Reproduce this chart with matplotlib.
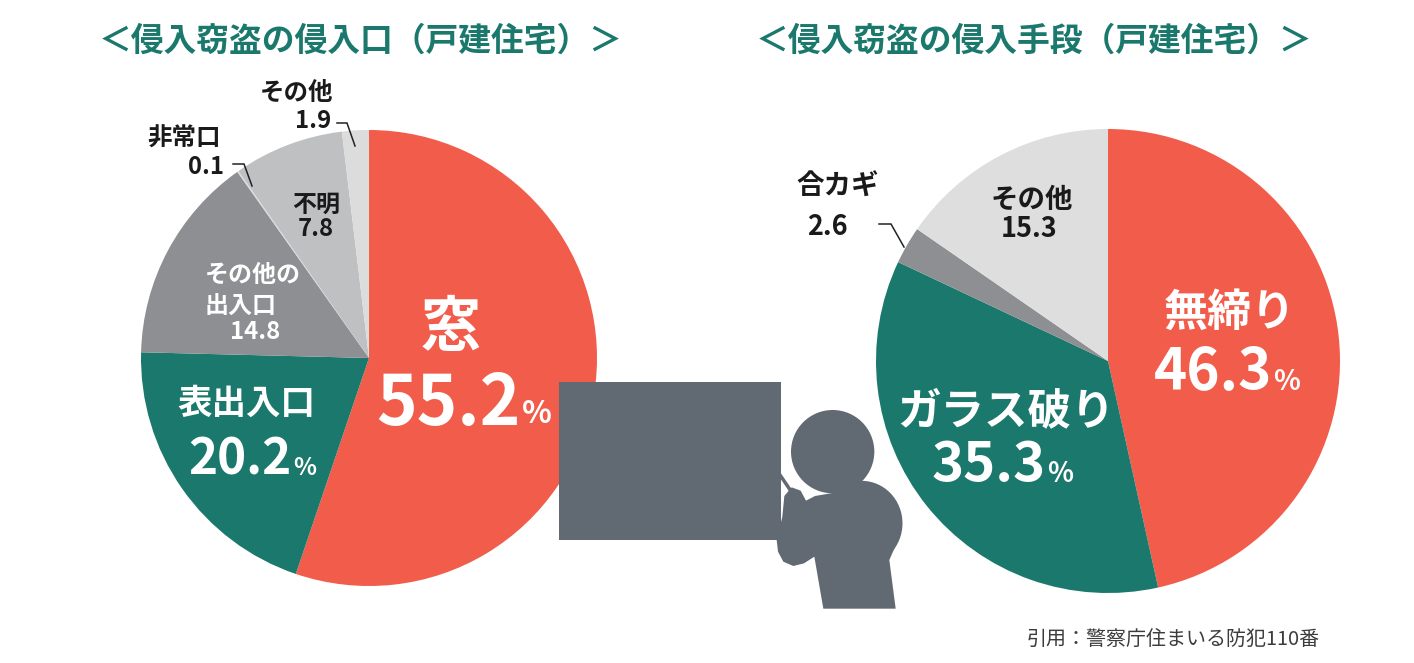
import matplotlib
matplotlib.use("Agg")
import matplotlib.pyplot as plt
from matplotlib.patches import Ellipse, Polygon, Rectangle

plt.rcParams['font.family'] = ['Noto Sans CJK JP', 'DejaVu Sans']

W = 1414
H = 663

entry_labels = ["窓", "表出入口", "その他の\n出入口", "非常口", "不明", "その他"]
entry_values = [55.2, 20.2, 14.8, 0.1, 7.8, 1.9]
entry_colors = ["#f25c4a", "#1b786c", "#8e8f92", "#d9d9d9", "#bfc0c2", "#dcdcdc"]

means_labels = ["無締り", "ガラス破り", "合カギ", "その他"]
means_values = [46.3, 35.3, 2.6, 15.3]
means_colors = ["#f25c4a", "#1b786c", "#8e8f92", "#dedede"]

title_left = "＜侵入窃盗の侵入口（戸建住宅）＞"
title_right = "＜侵入窃盗の侵入手段（戸建住宅）＞"
source = "引用：警察庁住まいる防犯110番"

GREEN = "#1b786c"
SLATE = "#616973"
INK = "#1a1a1a"


def px(size):
    return size * 72.0 / 100.0


def put(ax, x, y, s, size, color=INK, ha="center", weight="bold"):
    ax.text(x, H - y - 2, s, fontsize=px(size), color=color, ha=ha,
            va="center", fontweight=weight, linespacing=1.0)


def leader(ax, xs, ys):
    ax.plot(xs, [H - v for v in ys], color="#222222", lw=1.1,
            solid_joinstyle="miter")


def zx(v):
    return 550 + v / 3.0


def zy(v):
    return H - (370 + v / 3.0)


def draw_person(ax):
    # the thief and the board
    ax.add_patch(Rectangle((559, H - 540), 222, 158, color=SLATE, lw=0))
    ax.add_patch(Ellipse((zx(848), zy(245)), 250 / 3.0, 250 / 3.0, color=SLATE, lw=0))
    ax.add_patch(Ellipse((zx(935), zy(460)), 245 / 3.0, 255 / 3.0, color=SLATE, lw=0))
    pts = [(795, 378), (768, 392), (752, 362), (725, 352), (703, 378),
           (697, 440), (680, 510), (684, 545), (700, 575), (730, 588),
           (762, 580), (793, 560), (820, 716), (1037, 716), (1018, 570),
           (1040, 520), (1000, 420), (900, 360)]
    ax.add_patch(Polygon([(zx(a), zy(b)) for a, b in pts], closed=True,
                         color=SLATE, lw=0))
    ax.plot([zx(688), zx(722)], [zy(312), zy(362)], color=SLATE, lw=2.5)


def main():
    fig = plt.figure(figsize=(W / 100.0, H / 100.0), dpi=100)
    ax = fig.add_axes([0, 0, 1, 1])

    ax.pie(entry_values, colors=entry_colors, startangle=90, counterclock=False,
           center=(369, H - 358), radius=228, frame=True)
    ax.pie(means_values, colors=means_colors, startangle=90, counterclock=False,
           center=(1108, H - 361), radius=232, frame=True)
    ax.set_xlim(0, W)
    ax.set_ylim(0, H)
    ax.set_aspect("auto")
    ax.axis("off")

    draw_person(ax)

    put(ax, 361, 39, title_left, 32.8, GREEN)
    put(ax, 1034, 39, title_right, 32.8, GREEN)

    # left pie
    put(ax, 451, 326, entry_labels[0], 60, "white")
    put(ax, 521, 403, str(entry_values[0]), 69, "white", ha="right")
    put(ax, 522, 412, "%", 31, "white", ha="left")
    put(ax, 246, 401, entry_labels[1], 34.5, "white")
    put(ax, 292, 458, str(entry_values[1]), 49.5, "white", ha="right")
    put(ax, 293, 466, "%", 24, "white", ha="left")
    lines = entry_labels[2].split("\n")
    put(ax, 205, 273, lines[0], 24, "white", ha="left")
    put(ax, 205, 305, lines[1], 24, "white", ha="left")
    put(ax, 255, 330, str(entry_values[2]), 24, "white")
    put(ax, 316, 203, entry_labels[4], 24)
    put(ax, 316, 227, str(entry_values[4]), 24)
    put(ax, 184, 137, entry_labels[3], 24.5)
    put(ax, 206, 165, str(entry_values[3]), 24)
    put(ax, 297, 91, entry_labels[5], 24.5)
    put(ax, 313, 119, str(entry_values[5]), 24)
    leader(ax, [337, 347, 355], [123, 123, 146])
    leader(ax, [233, 244, 252], [164, 164, 186])

    # right pie
    put(ax, 1230, 311, means_labels[0], 44, "white")
    put(ax, 1272, 371, str(means_values[0]), 56.5, "white", ha="right")
    put(ax, 1273, 380, "%", 28, "white", ha="left")
    put(ax, 1006, 409, means_labels[1], 43.5, "white")
    put(ax, 1046, 463, str(means_values[1]), 54.5, "white", ha="right")
    put(ax, 1047, 472, "%", 27, "white", ha="left")
    put(ax, 1032, 198, means_labels[3], 27.5)
    put(ax, 1029, 227, str(means_values[3]), 27)
    put(ax, 838, 185, means_labels[2], 27.5)
    put(ax, 827, 225, str(means_values[2]), 27)
    leader(ax, [879, 891, 904], [224, 224, 247])

    put(ax, 1173, 637, source, 20, "#3c3c3c", weight="normal")

    fig.savefig("out.png", dpi=100, facecolor="white")


main()
